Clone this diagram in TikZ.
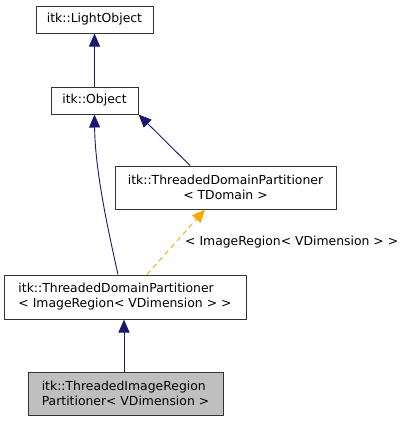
\documentclass[tikz,border=0pt]{standalone}
\usepackage{fontspec}
\setmainfont{DejaVu Sans}
\usetikzlibrary{arrows.meta}
\definecolor{edgeblue}{HTML}{191970}
\definecolor{tmplorange}{HTML}{FFA500}
\definecolor{grayfill}{HTML}{BFBFBF}
\definecolor{boxline}{HTML}{333333}
\begin{document}
\begin{tikzpicture}[x=1pt,y=-1pt,
  cls/.style={draw=boxline, line width=1pt, fill=white, inner sep=0pt, align=left,
    font=\fontsize{12.4}{15}\selectfont},
  inh/.style={draw=edgeblue, line width=0.9pt, -{Triangle[length=13pt,width=11pt]}},
  tmpl/.style={draw=tmplorange, line width=0.9pt, dashed, dash pattern=on 5pt off 4pt, -{Triangle[length=13pt,width=11pt]}},
  lbl/.style={font=\fontsize{12.4}{15}\selectfont, anchor=west, inner sep=0pt}]
\useasboundingbox (0,0) rectangle (409,421);
\node[cls, minimum width=117pt, minimum height=27pt] (light) at (94.5,19.5) {itk::LightObject};
\node[cls, minimum width=87pt, minimum height=27pt] (obj) at (94.5,100.5) {itk::Object};
\node[cls, minimum width=221pt, minimum height=43pt, align=center] (tdom) at (225.5,187.5) {itk::ThreadedDomainPartitioner\\< TDomain >};
\node[cls, minimum width=242pt, minimum height=44pt] (irp) at (125,297) {itk::ThreadedDomainPartitioner\\< ImageRegion< VDimension > >};
\node[cls, fill=grayfill, minimum width=195pt, minimum height=43pt] (tirp) at (125.5,393.5) {itk::ThreadedImageRegion\\Partitioner< VDimension >};
\draw[inh] (obj.north) -- (light.south);
\draw[inh] (tirp.north -| 124,0) -- (irp.south -| 124,0);
\draw[inh] (irp.north -| 118,0) .. controls (108,230) and (95,170) .. (obj.south);
\draw[inh] (tdom.north -| 190,0) -- (obj.south east);
\draw[tmpl] (irp.north -| 147,0) -- (tdom.south -| 205,0);
\node[lbl] (lab) at (185,242) {< ImageRegion< VDimension > >};
\end{tikzpicture}
\end{document}
